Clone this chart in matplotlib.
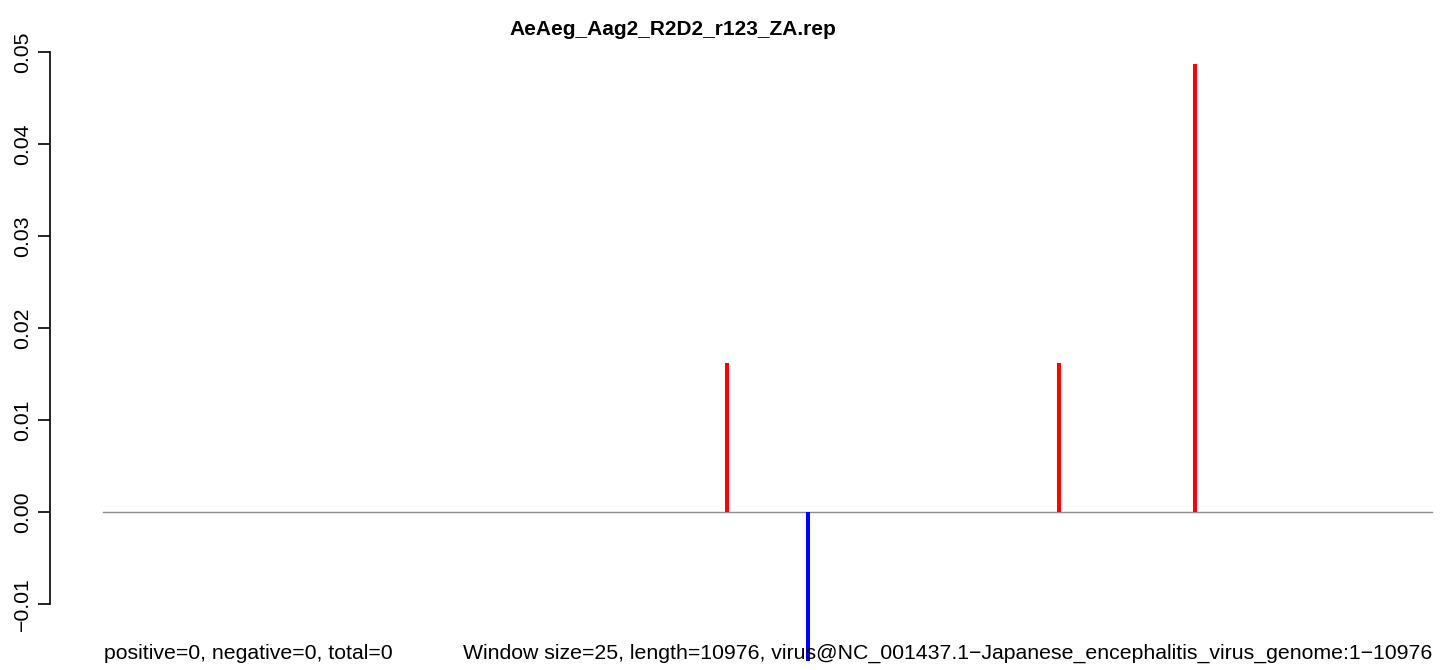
import matplotlib
matplotlib.use("Agg")
import matplotlib.pyplot as plt

plt.rcParams['font.family'] = ['Liberation Sans', 'DejaVu Sans']

# siRNA density per window along the genome
genome_length = 10976
window_size = 25
positions = [5153, 5822, 7895, 9018]
values = [0.0162, -0.0162, 0.0162, 0.0487]
yticks = [-0.01, 0.00, 0.01, 0.02, 0.03, 0.04, 0.05]
title = "AeAeg_Aag2_R2D2_r123_ZA.rep"
left_note = "positive=0, negative=0, total=0"
right_note = ("Window size=25, length=10976, "
              "virus@NC_001437.1\u2212Japanese_encephalitis_virus_genome:1\u221210976")

W, H = 1444, 670
fig = plt.figure(figsize=(W / 100, H / 100), dpi=100)

# plot region in pixels: left edge 50, top 40; data 0 -> x=103, length -> x=1432
px_left, px_top = 50, 40
x_per_px = genome_length / (1432 - 103)
y_per_px = 0.01 / 92
ax = fig.add_axes([px_left / W, 0, 1 - px_left / W, 1 - px_top / H])
ax.set_xlim(-(103 - px_left) * x_per_px, (W - 103) * x_per_px)
ax.set_ylim(-(H - 512) * y_per_px, (512 - px_top) * y_per_px)

ax.plot([0, genome_length], [0, 0], color='#8c8c8c', lw=1.0, zorder=1)
for x, v in zip(positions, values):
    ax.vlines(x, 0, v, color='red' if v > 0 else 'blue', lw=2.9,
              capstyle='butt', zorder=2)

for s in ['top', 'right', 'bottom']:
    ax.spines[s].set_visible(False)
ax.spines['left'].set_bounds(yticks[0], yticks[-1])
ax.spines['left'].set_linewidth(1.2)
ax.set_xticks([])
ax.set_yticks(yticks)
ax.set_yticklabels(['\u22120.01', '0.00', '0.01', '0.02', '0.03', '0.04', '0.05'],
                   rotation=90, va='center', fontsize=15.3)
ax.tick_params(axis='y', length=9, width=1.2, pad=4)

fig.text(673 / W, 1 - 35 / H, title, ha='center', va='baseline',
         fontsize=15, fontweight='bold')
fig.text(104 / W, 1 - 659 / H, left_note, ha='left', va='baseline', fontsize=15.3)
fig.text(1432 / W, 1 - 659 / H, right_note, ha='right', va='baseline', fontsize=15.3)

fig.savefig("out.png", dpi=100)
